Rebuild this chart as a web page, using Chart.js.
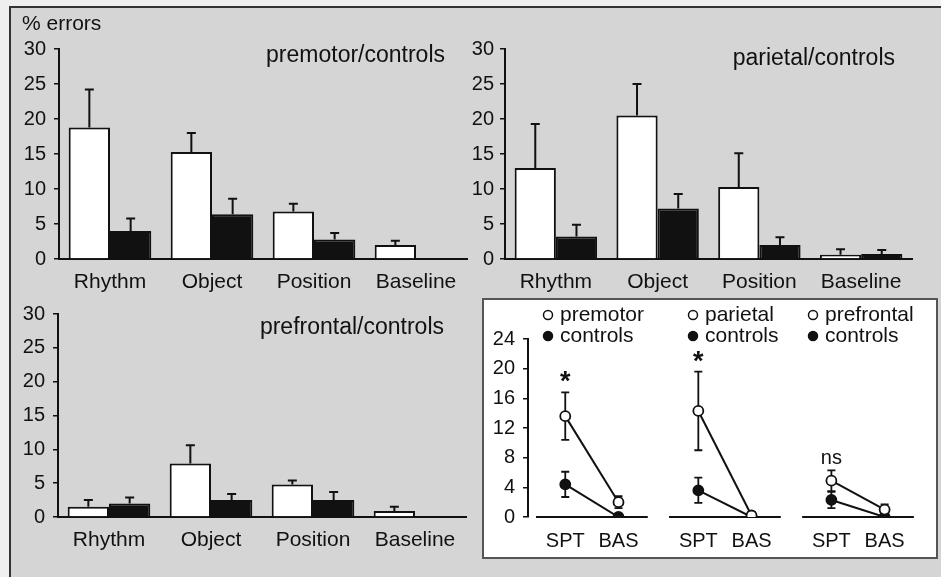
<!DOCTYPE html>
<html>
<head>
<meta charset="utf-8">
<script src="https://cdn.jsdelivr.net/npm/chart.js@4.4.0/dist/chart.umd.min.js"></script>
<style>
  html, body { margin: 0; padding: 0; background: #efefef; }
  body { width: 941px; height: 577px; position: relative; overflow: hidden; }
  #frame { position: absolute; left: 9px; top: 6px; width: 1000px; height: 700px; border: 2px solid #333; background: #d5d5d5; }
  #inset { position: absolute; left: 482px; top: 298px; width: 452px; height: 257px; border: 2px solid #555; background: #fff; }
  canvas { position: absolute; }
</style>
</head>
<body>
<div id="frame"></div>
<div id="inset"></div>
<canvas id="premotor-chart" width="470" height="300" style="left:12px;top:10px"></canvas>
<canvas id="parietal-chart" width="470" height="300" style="left:460px;top:10px"></canvas>
<canvas id="prefrontal-chart" width="470" height="276" style="left:12px;top:294px"></canvas>
<canvas id="summary-chart" width="448" height="258" style="left:486px;top:302px"></canvas>
<script>
// bar panels: % errors per task
const categories = ['Rhythm', 'Object', 'Position', 'Baseline'];

const premotorMeans = [18.8, 15.3, 6.8, 2.0];
const premotorErr = [5.4, 2.7, 1.1, 0.6];
const premotorCtrlMeans = [4.0, 6.4, 2.8, 0];
const premotorCtrlErr = [1.8, 2.2, 0.9, 0];

const parietalMeans = [13.0, 20.5, 10.3, 0.6];
const parietalErr = [6.3, 4.5, 4.8, 0.8];
const parietalCtrlMeans = [3.2, 7.2, 2.0, 0.7];
const parietalCtrlErr = [1.7, 2.1, 1.1, 0.6];

const prefrontalMeans = [1.5, 7.9, 4.8, 0.9];
const prefrontalErr = [1.0, 2.7, 0.6, 0.6];
const prefrontalCtrlMeans = [2.0, 2.5, 2.5, 0];
const prefrontalCtrlErr = [0.9, 0.9, 1.2, 0];

// summary inset: SPT vs BAS
const insetGroups = ['premotor', 'parietal', 'prefrontal'];
const conditions = ['SPT', 'BAS'];
const patientMeans = [[13.6, 2.0], [14.3, 0.2], [4.9, 1.0]];
const patientErr = [[3.2, 0.8], [5.3, 0.5], [1.4, 0.7]];
const controlMeans = [[4.4, 0], [3.6, 0], [2.3, 0]];
const controlErr = [[1.7, 0], [1.7, 0.3], [1.1, 0]];
const significance = ['*', '*', 'ns'];

const INK = '#111';
const FONT = "'Liberation Sans', Arial, Helvetica, sans-serif";
Chart.defaults.font.family = FONT;
Chart.defaults.font.size = 20;
Chart.defaults.color = INK;

// upward error bars on top of each bar
const barErrorBars = {
  id: 'barErrorBars',
  afterDatasetsDraw(chart) {
    const ctx = chart.ctx;
    const yScale = chart.scales.y;
    ctx.save();
    ctx.strokeStyle = INK;
    ctx.lineWidth = 2;
    chart.data.datasets.forEach((ds, di) => {
      const meta = chart.getDatasetMeta(di);
      ds.errorBars.forEach((e, i) => {
        if (!e) return;
        const bar = meta.data[i];
        const top = yScale.getPixelForValue(ds.data[i] + e);
        ctx.beginPath();
        ctx.moveTo(bar.x, bar.y);
        ctx.lineTo(bar.x, top);
        ctx.moveTo(bar.x - 4.5, top);
        ctx.lineTo(bar.x + 4.5, top);
        ctx.stroke();
      });
    });
    ctx.restore();
  }
};

// free text inside a panel, placed from the chart area
function panelText(items) {
  return {
    id: 'panelText',
    afterDraw(chart) {
      const { ctx, chartArea } = chart;
      ctx.save();
      ctx.fillStyle = INK;
      ctx.textBaseline = 'alphabetic';
      items.forEach(item => {
        ctx.font = item.size + 'px ' + FONT;
        ctx.textAlign = item.align;
        const x = item.align === 'right' ? chartArea.right + item.dx : chartArea.left + item.dx;
        ctx.fillText(item.text, x, chartArea.top + item.dy);
      });
      ctx.restore();
    }
  };
}

function buildBarChart(id, cfg) {
  const ctx = document.getElementById(id).getContext('2d');
  return new Chart(ctx, {
    type: 'bar',
    data: {
      labels: categories,
      datasets: [
        { label: cfg.label, data: cfg.means, errorBars: cfg.errors, backgroundColor: '#ffffff', borderColor: INK, borderWidth: 2 },
        { label: 'controls', data: cfg.ctrlMeans, errorBars: cfg.ctrlErrors, backgroundColor: INK, borderColor: INK, borderWidth: 2 }
      ]
    },
    options: {
      responsive: false,
      animation: false,
      devicePixelRatio: 1,
      events: [],
      layout: { padding: cfg.padding },
      datasets: { bar: { categoryPercentage: 0.81, barPercentage: 1 } },
      plugins: { legend: { display: false }, tooltip: { enabled: false } },
      scales: {
        x: {
          z: 1,
          grid: { display: false },
          border: { color: INK, width: 2 },
          ticks: { font: { size: 21 }, padding: 3, maxRotation: 0 },
          afterFit: s => { s.height = 46; }
        },
        y: {
          min: 0,
          max: 30,
          ticks: { stepSize: 5, padding: cfg.tickPad },
          grid: { drawOnChartArea: false, color: INK, lineWidth: 1.5, tickLength: 5 },
          border: { color: INK, width: 2 },
          afterFit: s => { s.width = cfg.axisWidth; }
        }
      }
    },
    plugins: [barErrorBars, panelText(cfg.texts)]
  });
}

buildBarChart('premotor-chart', {
  label: 'premotor', means: premotorMeans, errors: premotorErr,
  ctrlMeans: premotorCtrlMeans, ctrlErrors: premotorCtrlErr,
  padding: { left: 0, top: 39, right: 15, bottom: 5 }, axisWidth: 47, tickPad: 8,
  texts: [
    { text: 'premotor/controls', size: 23, align: 'right', dx: -22, dy: 13 },
    { text: '% errors', size: 21, align: 'left', dx: -37, dy: -19 }
  ]
});

buildBarChart('parietal-chart', {
  label: 'parietal', means: parietalMeans, errors: parietalErr,
  ctrlMeans: parietalCtrlMeans, ctrlErrors: parietalCtrlErr,
  padding: { left: 0, top: 39, right: 18, bottom: 5 }, axisWidth: 45, tickPad: 6,
  texts: [{ text: 'parietal/controls', size: 23, align: 'right', dx: -17, dy: 16 }]
});

buildBarChart('prefrontal-chart', {
  label: 'prefrontal', means: prefrontalMeans, errors: prefrontalErr,
  ctrlMeans: prefrontalCtrlMeans, ctrlErrors: prefrontalCtrlErr,
  padding: { left: 0, top: 14, right: 16, bottom: 7 }, axisWidth: 46, tickPad: 8,
  texts: [{ text: 'prefrontal/controls', size: 23, align: 'right', dx: -22, dy: 20 }]
});

// ---- summary inset ----
const GROUP_STEP = 2.5;
const legendDx = [20, 165, 285];
const legendDy = [-24, -3];

const insetDatasets = [];
insetGroups.forEach((group, gi) => {
  const xs = conditions.map((c, ci) => gi * GROUP_STEP + ci);
  insetDatasets.push({
    label: group, group: gi,
    data: xs.map((x, ci) => ({ x: x, y: patientMeans[gi][ci] })),
    errorBars: patientErr[gi],
    borderColor: INK, borderWidth: 2,
    pointRadius: 5, pointBorderWidth: 1.8,
    pointBackgroundColor: '#ffffff', pointBorderColor: INK
  });
  insetDatasets.push({
    label: 'controls', group: gi,
    data: xs.map((x, ci) => ({ x: x, y: controlMeans[gi][ci] })),
    errorBars: controlErr[gi],
    borderColor: INK, borderWidth: 2,
    pointRadius: 5, pointBorderWidth: 1.8,
    pointBackgroundColor: INK, pointBorderColor: INK
  });
});

const insetDecor = {
  id: 'insetDecor',
  beforeDatasetsDraw(chart) {
    const { ctx, scales: { x, y } } = chart;
    ctx.save();
    ctx.strokeStyle = INK;
    ctx.lineWidth = 2;
    // broken baseline, one piece per group
    insetGroups.forEach((g, gi) => {
      const y0 = y.getPixelForValue(0);
      ctx.beginPath();
      ctx.moveTo(x.getPixelForValue(gi * GROUP_STEP - 0.55), y0);
      ctx.lineTo(x.getPixelForValue(gi * GROUP_STEP + 1.55), y0);
      ctx.stroke();
    });
    // symmetric error bars
    ctx.lineWidth = 1.8;
    chart.data.datasets.forEach(ds => {
      ds.data.forEach((pt, i) => {
        const e = ds.errorBars[i];
        if (!e) return;
        const px = x.getPixelForValue(pt.x);
        const hi = y.getPixelForValue(pt.y + e);
        const lo = y.getPixelForValue(Math.max(pt.y - e, 0));
        ctx.beginPath();
        ctx.moveTo(px, lo); ctx.lineTo(px, hi);
        ctx.moveTo(px - 4, hi); ctx.lineTo(px + 4, hi);
        ctx.moveTo(px - 4, lo); ctx.lineTo(px + 4, lo);
        ctx.stroke();
      });
    });
    ctx.restore();
  },
  afterDraw(chart) {
    const { ctx, chartArea, scales: { x, y } } = chart;
    ctx.save();
    ctx.fillStyle = INK;
    ctx.strokeStyle = INK;
    // significance marks above the SPT patient error bar
    ctx.textAlign = 'center';
    ctx.textBaseline = 'alphabetic';
    insetGroups.forEach((g, gi) => {
      const mark = significance[gi];
      ctx.font = mark === '*' ? 'bold 27px ' + FONT : '20px ' + FONT;
      const top = y.getPixelForValue(patientMeans[gi][0] + patientErr[gi][0]);
      ctx.fillText(mark, x.getPixelForValue(gi * GROUP_STEP), top - (mark === '*' ? 2 : 6));
    });
    // legend blocks, two rows per group
    ctx.font = '21px ' + FONT;
    ctx.textAlign = 'left';
    chart.data.datasets.forEach((ds, di) => {
      const row = di % 2;
      const cx = chartArea.left + legendDx[ds.group];
      const cy = chartArea.top + legendDy[row];
      ctx.beginPath();
      ctx.arc(cx, cy, 4.5, 0, Math.PI * 2);
      ctx.fillStyle = ds.pointBackgroundColor;
      ctx.fill();
      ctx.lineWidth = 1.5;
      ctx.stroke();
      ctx.fillStyle = INK;
      ctx.fillText(ds.label, cx + 12, cy + 6);
    });
    ctx.restore();
  }
};

new Chart(document.getElementById('summary-chart').getContext('2d'), {
  type: 'line',
  data: { datasets: insetDatasets },
  options: {
    responsive: false,
    animation: false,
    devicePixelRatio: 1,
    events: [],
    layout: { padding: { left: 0, top: 37, right: 6, bottom: 3 } },
    plugins: { legend: { display: false }, tooltip: { enabled: false } },
    scales: {
      x: {
        type: 'linear',
        min: -0.7,
        max: 6.8,
        grid: { display: false },
        border: { display: false },
        afterBuildTicks: s => {
          s.ticks = insetGroups.flatMap((g, gi) => conditions.map((c, ci) => ({ value: gi * GROUP_STEP + ci })));
        },
        ticks: { callback: (v, i) => conditions[i % 2], padding: 4, maxRotation: 0, autoSkip: false },
        afterFit: s => { s.height = 40; }
      },
      y: {
        min: 0,
        max: 24,
        ticks: { stepSize: 4, padding: 8 },
        grid: { drawOnChartArea: false, color: INK, lineWidth: 1.5, tickLength: 5 },
        border: { color: INK, width: 2 },
        afterFit: s => { s.width = 42; }
      }
    }
  },
  plugins: [insetDecor]
});
</script>
</body>
</html>
